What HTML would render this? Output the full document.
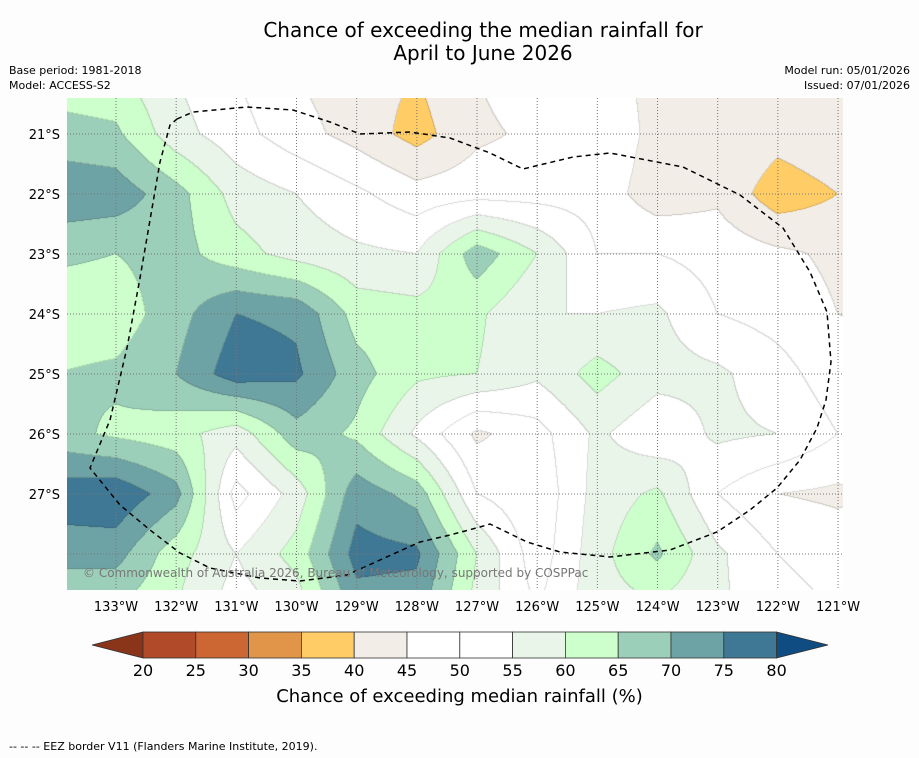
<!DOCTYPE html>
<html><head><meta charset="utf-8">
<style>
body{margin:0;background:#fdfdfd;}
#wrap{position:relative;width:919px;height:758px;background:#fdfdfd;font-family:"DejaVu Sans","Liberation Sans",sans-serif;overflow:hidden;}
.t{position:absolute;white-space:nowrap;color:#000;}
</style></head><body>
<div id="wrap">
<div class="t" style="left:0;width:966px;text-align:center;top:19px;font-size:20px;line-height:23px;">Chance of exceeding the median rainfall for<br>April to June 2026</div>
<div class="t" style="left:9px;top:63px;font-size:11px;line-height:15px;">Base period: 1981-2018<br>Model: ACCESS-S2</div>
<div class="t" style="right:9px;top:63px;font-size:11px;line-height:15px;text-align:right;">Model run: 05/01/2026<br>Issued: 07/01/2026</div>
<canvas id="map" width="776" height="492" style="position:absolute;left:67px;top:98px;"></canvas>
<svg id="ov" width="919" height="758" style="position:absolute;left:0;top:0;"></svg>
<div class="t" style="left:83px;top:566px;font-size:12px;color:#777;">© Commonwealth of Australia 2026, Bureau of Meteorology, supported by COSPPac</div>
<div class="t" style="left:0;width:919px;text-align:center;top:686px;font-size:18px;">Chance of exceeding median rainfall (%)</div>
<div class="t" style="left:9px;top:740px;font-size:11px;">--  --  -- EEZ border V11 (Flanders Marine Institute, 2019).</div>
</div>
<script>
// grid longitudes (deg W) and latitudes (deg S)
const lonsW=[134,133,132,131,130,129,128,127,126,125,124,123,122,121,120];
const latsS=[20,21,22,23,24,25,26,27,28,29];
const row20=[62,61,55,50,45,42,40,45,48,46,44,44,44,43,42];
const row21=[67,66,57,52,47,43,38,44,46,50,43,45,42,44,44];
const row22=[74,73,67,58,55,51,47,48,48,48,42,44,37,40,42];
const row23=[66,65,67,62,58,56,55,68,60,50,50,48,46,44,44];
const row24=[62,62,68,75,74,63,62,61,55,55,56,50,48,45,44];
const row25=[65,66,70,78,76,67,61,60,56,62,57,56,52,47,46];
const row26=[67,64,62,57,68,64,54,44,48,56,51,56,55,50,48];
const row27=[78,79,72,48,57,73,68,50,46,57,61,50,45,44,46];
const row28=[72,72,62,55,62,77,76,60,47,58,66,56,50,48,48];
const row29=[64,64,60,52,56,72,72,58,50,58,58,56,52,50,50];
const grid=[row20,row21,row22,row23,row24,row25,row26,row27,row28,row29];
const levels=[20,25,30,35,40,45,50,55,60,65,70,75,80];
const colors=["#8a3519","#b04a28","#cc6633","#e09548","#ffcc66","#f2ede6","#ffffff","#ffffff","#eaf5e9","#ccffcc","#9ccfb9","#6ea3a5","#3f7894","#0f4c81"];
const lonTicks=[133,132,131,130,129,128,127,126,125,124,123,122,121];
const latTicks=[21,22,23,24,25,26,27];

// axis functions
const xOf=w=>116+(133-w)*60.17;
const yOf=s=>134+(s-21)*60;
const wOf=x=>133-(x-116)/60.17;
const sOf=y=>21+(y-134)/60;

function val(w,s){
  let c=(lonsW[0]-w), r=(s-latsS[0]);
  c=Math.max(0,Math.min(lonsW.length-1.0001,c));
  r=Math.max(0,Math.min(latsS.length-1.0001,r));
  const c0=Math.floor(c),r0=Math.floor(r),fc=c-c0,fr=r-r0;
  const a=grid[r0][c0],b=grid[r0][c0+1],d=grid[r0+1][c0],e=grid[r0+1][c0+1];
  return a*(1-fc)*(1-fr)+b*fc*(1-fr)+d*(1-fc)*fr+e*fc*fr;
}
function lvl(v){let i=0;while(i<levels.length&&v>=levels[i])i++;return i;}
function hex(h){return [parseInt(h.substr(1,2),16),parseInt(h.substr(3,2),16),parseInt(h.substr(5,2),16)];}
const rgb=colors.map(hex);
const cv=document.getElementById('map'),ctx=cv.getContext('2d');
const W=cv.width,H=cv.height,img=ctx.createImageData(W,H);
const L=new Int8Array(W*H);
for(let py=0;py<H;py++)for(let px=0;px<W;px++){
  L[py*W+px]=lvl(val(wOf(67+px+0.5),sOf(98+py+0.5)));
}
for(let py=0;py<H;py++)for(let px=0;px<W;px++){
  const i=py*W+px,l=L[i];let c=rgb[l];
  const edge=(px<W-1&&L[i+1]!==l)||(py<H-1&&L[i+W]!==l);
  const o=i*4;
  if(edge){img.data[o]=c[0]*0.85;img.data[o+1]=c[1]*0.85;img.data[o+2]=c[2]*0.85;}
  else{img.data[o]=c[0];img.data[o+1]=c[1];img.data[o+2]=c[2];}
  img.data[o+3]=255;
}
ctx.putImageData(img,0,0);

const NS='http://www.w3.org/2000/svg',ov=document.getElementById('ov');
function mk(t,a){const e=document.createElementNS(NS,t);for(const k in a)e.setAttribute(k,a[k]);ov.appendChild(e);return e;}
const FF='DejaVu Sans, Liberation Sans, sans-serif';
lonTicks.forEach(w=>{
  const x=xOf(w);
  const g=mk('line',{x1:x,x2:x,y1:98,y2:590,stroke:'#777','stroke-width':1,'stroke-dasharray':'1,2'});
  
  
  const t=mk('text',{x:x,y:611,'font-size':13,'text-anchor':'middle','font-family':FF});
  t.textContent=w+'°W';
  
  
});
latTicks.forEach(s=>{
  const y=yOf(s);
  const g=mk('line',{x1:67,x2:843,y1:y,y2:y,stroke:'#777','stroke-width':1,'stroke-dasharray':'1,2'});
  
  
  const t=mk('text',{x:60,y:y+5,'font-size':13,'text-anchor':'end','font-family':FF});
  t.textContent=s+'°S';
  
  
});
[554].forEach(y=>{const g=mk('line',{x1:67,x2:843,y1:y,y2:y,stroke:'#777','stroke-width':1,'stroke-dasharray':'1,2'});

});
// EEZ border (map decoration)
const eez=[[177,119],[193,112],[247,107],[293,110],[330,122],[360,134],[410,132],[450,138],[490,153],[523,169],[573,157],[610,153],[683,167],[740,195],[783,228],[810,272],[827,312],[831,362],[826,400],[817,428],[800,460],[777,488],[750,510],[717,532],[670,550],[610,557],[560,552],[527,542],[490,524],[480,527],[450,535],[420,542],[380,560],[347,575],[300,581],[260,578],[210,568],[180,553],[150,530],[120,505],[90,468],[110,420],[127,348],[140,278],[150,220],[160,162],[170,125],[177,119]];
const p=mk('polyline',{points:eez.map(q=>q.join(',')).join(' '),fill:'none',stroke:'#000','stroke-width':1.5,'stroke-dasharray':'5,4'});


// colorbar
const cbX0=143,cbW=52.8,cbY=632,cbH=26;
const lt=mk('polygon',{points:`92,645 ${cbX0},${cbY} ${cbX0},${cbY+cbH}`,fill:colors[0],stroke:'#333','stroke-width':0.8});


for(let i=0;i<12;i++){
  const r=mk('rect',{x:cbX0+i*cbW,y:cbY,width:cbW,height:cbH,fill:colors[i+1],stroke:'#333','stroke-width':0.8});
  
  
}
const xe=cbX0+12*cbW;
const rt=mk('polygon',{points:`${xe},${cbY} ${xe},${cbY+cbH} 828,645`,fill:colors[13],stroke:'#333','stroke-width':0.8});


levels.forEach((v,i)=>{
  const t=mk('text',{x:cbX0+i*cbW,y:676,'font-size':16,'text-anchor':'middle','font-family':FF});
  t.textContent=v;
  
  
});
</script>
</body></html>
